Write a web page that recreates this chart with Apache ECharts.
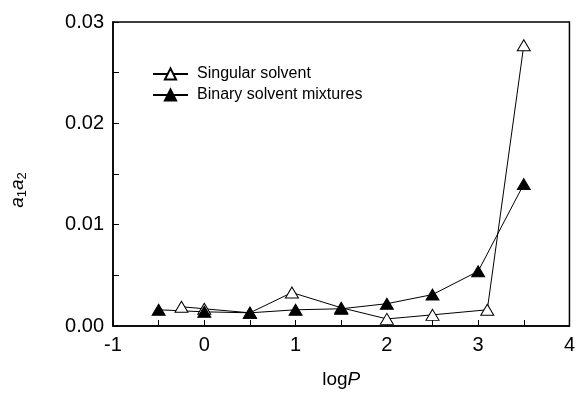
<!DOCTYPE html>
<html>
<head>
<meta charset="utf-8">
<script src="https://cdn.jsdelivr.net/npm/echarts@6/dist/echarts.min.js"></script>
<style>
  html, body { margin: 0; padding: 0; background: #fff; }
  #chart { width: 578px; height: 394px; }
</style>
</head>
<body>
<div id="chart"></div>
<script>
// singular solvent (open triangles)
const singularX = [-0.25, 0, 0.5, 0.96, 1.5, 2, 2.5, 3.1, 3.5];
const singularY = [0.0019, 0.0017, 0.0013, 0.0033, 0.0018, 0.0007, 0.0011, 0.0016, 0.0277];
// binary solvent mixtures (filled triangles)
const binaryX = [-0.5, 0, 0.5, 1, 1.5, 2, 2.5, 3, 3.5];
const binaryY = [0.0016, 0.0014, 0.0013, 0.0016, 0.0017, 0.0022, 0.0031, 0.0054, 0.014];

const FONT = 'Liberation Sans, Arial, sans-serif';

const chart = echarts.init(document.getElementById('chart'), null, { renderer: 'canvas' });

const pair = (xs, ys) => xs.map((x, i) => [x, ys[i]]);

chart.setOption({
  backgroundColor: '#fff',
  animation: false,
  grid: { left: 110, right: 6, top: 22, bottom: 65, show: true, borderColor: '#000', borderWidth: 1.5 },
  legend: {
    orient: 'vertical',
    left: 152,
    top: 66,
    padding: 0,
    itemWidth: 35,
    itemHeight: 14,
    itemGap: 5,
    textStyle: { fontFamily: FONT, fontSize: 16, color: '#000', padding: [0, 0, 0, 4] },
    data: ['Singular solvent', 'Binary solvent mixtures'],
  },
  xAxis: {
    type: 'value',
    min: -1,
    max: 4,
    interval: 1,
    name: '{n|log}{i|P}',
    nameLocation: 'middle',
    nameGap: 44,
    nameTextStyle: {
      rich: {
        n: { fontFamily: FONT, fontSize: 19, color: '#000' },
        i: { fontFamily: FONT, fontSize: 19, fontStyle: 'italic', color: '#000' },
      },
    },
    axisLine: { onZero: false, lineStyle: { color: '#000', width: 1.5 } },
    axisTick: { inside: true, length: 6, lineStyle: { color: '#000' } },
    minorTick: { show: true, splitNumber: 2, length: 6, lineStyle: { color: '#000' } },
    axisLabel: { fontFamily: FONT, fontSize: 20, color: '#000', margin: 9 },
    splitLine: { show: false },
  },
  yAxis: {
    type: 'value',
    min: 0,
    max: 0.03,
    interval: 0.01,
    name: '{i|a}{s|1}{i|a}{s|2}',
    nameLocation: 'middle',
    nameGap: 84,
    nameTextStyle: {
      padding: [0, 32, 0, 0],
      rich: {
        i: { fontFamily: FONT, fontSize: 19, fontStyle: 'italic', color: '#000' },
        s: { fontFamily: FONT, fontSize: 13, color: '#000', padding: [10, 0, 0, 0] },
      },
    },
    axisLine: { onZero: false, lineStyle: { color: '#000', width: 1.5 } },
    axisTick: { inside: true, length: 6, lineStyle: { color: '#000' } },
    minorTick: { show: true, splitNumber: 2, length: 6, lineStyle: { color: '#000' } },
    axisLabel: { fontFamily: FONT, fontSize: 20, color: '#000', margin: 9, formatter: (v) => v.toFixed(2) },
    splitLine: { show: false },
  },
  series: [
    {
      name: 'Singular solvent',
      type: 'line',
      data: pair(singularX, singularY),
      symbol: 'triangle',
      symbolSize: [13, 11],
      showAllSymbol: true,
      lineStyle: { color: '#000', width: 1 },
      itemStyle: { color: '#fff', borderColor: '#000', borderWidth: 1 },
    },
    {
      name: 'Binary solvent mixtures',
      type: 'line',
      data: pair(binaryX, binaryY),
      symbol: 'triangle',
      symbolSize: [13, 11],
      showAllSymbol: true,
      lineStyle: { color: '#000', width: 1 },
      itemStyle: { color: '#000', borderColor: '#000', borderWidth: 1 },
    },
  ],
});
</script>
</body>
</html>
